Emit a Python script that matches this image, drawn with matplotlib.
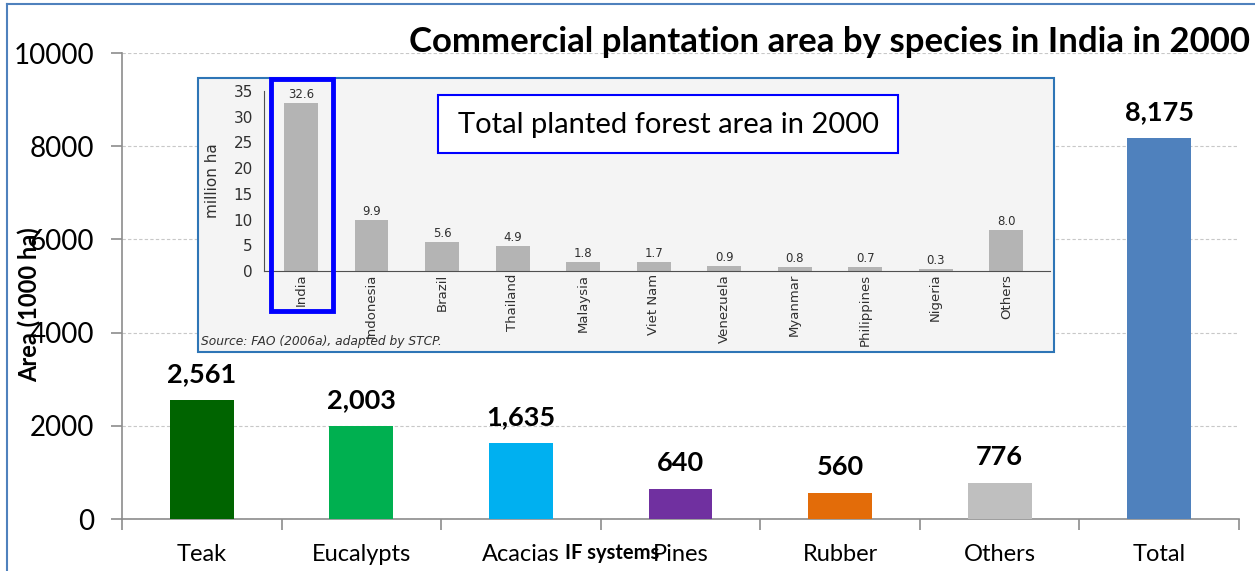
import matplotlib
matplotlib.use("Agg")
import matplotlib.pyplot as plt
from matplotlib.patches import Rectangle
from matplotlib.lines import Line2D

# ---- data ----
categories = ["Teak", "Eucalypts", "Acacias", "Pines", "Rubber", "Others", "Total"]
areas = [2561, 2003, 1635, 640, 560, 776, 8175]
area_labels = ["2,561", "2,003", "1,635", "640", "560", "776", "8,175"]
bar_colors = ["#006400", "#00b050", "#00b0f0", "#7030a0", "#e36c09", "#bfbfbf", "#4f81bd"]
y_ticks = [0, 2000, 4000, 6000, 8000, 10000]

inset_countries = ["India", "Indonesia", "Brazil", "Thailand", "Malaysia", "Viet Nam",
                   "Venezuela", "Myanmar", "Philippines", "Nigeria", "Others"]
inset_values = [32.6, 9.9, 5.6, 4.9, 1.8, 1.7, 0.9, 0.8, 0.7, 0.3, 8.0]
inset_yticks = [0, 5, 10, 15, 20, 25, 30, 35]

W, H = 1255, 571
fig = plt.figure(figsize=(W / 100, H / 100), dpi=100)
fig.patch.set_facecolor("white")

def fx(x):
    return x / W

def fy(y):
    return 1 - y / H

FONT = ["Lato", "DejaVu Sans"]

# figure frame lines
fig.add_artist(Line2D([fx(7), fx(7)], [fy(4), 0], color="#4f81bd", lw=1.5, transform=fig.transFigure))
fig.add_artist(Line2D([fx(7), 1], [fy(4), fy(4)], color="#4f81bd", lw=1.5, transform=fig.transFigure))

# ---- main axes ----
ax = fig.add_axes([fx(122), fy(519), fx(1239) - fx(122), fy(53) - fy(519)])
x = list(range(len(categories)))
ax.bar(x, areas, width=0.4, color=bar_colors, zorder=3)
ax.set_xlim(-0.5, len(categories) - 0.5)
ax.set_ylim(0, 10000)
ax.set_yticks(y_ticks)
ax.set_yticklabels([str(v) for v in y_ticks], fontsize=20, family=FONT)
ax.set_xticks(x)
ax.set_xticklabels(categories, fontsize=17, family=FONT)
ax.set_xticks([i - 0.5 for i in range(len(categories) + 1)], minor=True)
ax.tick_params(axis="x", which="major", length=0, pad=18)
ax.tick_params(axis="x", which="minor", length=8, color="#8c8c8c", width=1.2)
ax.tick_params(axis="y", length=8, color="#8c8c8c", width=1.2, pad=12)
ax.yaxis.grid(True, linestyle=(0, (3, 2)), color="#c8c8c8", lw=0.8, zorder=0)
for s in ["top", "right"]:
    ax.spines[s].set_visible(False)
for s in ["left", "bottom"]:
    ax.spines[s].set_color("#8c8c8c")
    ax.spines[s].set_linewidth(1.2)
ax.set_facecolor("none")

for xi, v, lab in zip(x, areas, area_labels):
    ax.annotate(lab, (xi, v), xytext=(0, 10), textcoords="offset points",
                ha="center", va="bottom", fontsize=19.5, fontweight="bold", family=FONT)

fig.text(fx(29), fy(305), "Area (1000 ha)", rotation=90, ha="center", va="center",
         fontsize=17, fontweight="bold", family=FONT)
fig.text(fx(1250), fy(42), "Commercial plantation area by species in India in 2000",
         ha="right", va="center", fontsize=25, fontweight="bold", family=FONT)
fig.text(fx(612), fy(553), "IF systems", ha="center", va="center",
         fontsize=14.5, fontweight="bold", family=FONT)

# ---- inset background ----
fig.add_artist(Rectangle((fx(198), fy(352)), fx(1054) - fx(198), fy(78) - fy(352),
                         transform=fig.transFigure, facecolor="#f4f4f4",
                         edgecolor="#2e75b6", lw=1.5, zorder=5))

iax = fig.add_axes([fx(264), fy(271), fx(1050) - fx(264), fy(91) - fy(271)], zorder=6)
iax.set_facecolor("none")
ix = list(range(len(inset_countries)))
iax.bar(ix, inset_values, width=0.48, color="#b4b4b4")
iax.set_xlim(-0.525, len(inset_countries) - 0.38)
iax.set_ylim(0, 35)
iax.set_yticks(inset_yticks)
iax.set_yticklabels([str(v) for v in inset_yticks], fontsize=11, color="#303030")
iax.set_xticks(ix)
iax.set_xticklabels(inset_countries, rotation=90, fontsize=9.5, color="#303030")
iax.tick_params(axis="x", length=0, pad=2)
iax.tick_params(axis="y", length=0, pad=8)
for s in ["top", "right"]:
    iax.spines[s].set_visible(False)
for s in ["left", "bottom"]:
    iax.spines[s].set_color("#505050")
    iax.spines[s].set_linewidth(0.8)
for xi, v in zip(ix, inset_values):
    iax.annotate(f"{v:.1f}", (xi, v), xytext=(0, 1.5), textcoords="offset points",
                 ha="center", va="bottom", fontsize=8.5, color="#303030")
iax.set_ylabel("million ha", fontsize=11, color="#303030", labelpad=10)

fig.text(fx(201), fy(341), "Source: FAO (2006a), adapted by STCP.", fontsize=8.8,
         style="italic", color="#303030", ha="left", va="center", zorder=7)

# highlight rectangle around India
fig.add_artist(Rectangle((fx(271), fy(311)), fx(333) - fx(271), fy(79) - fy(311),
                         transform=fig.transFigure, facecolor="none",
                         edgecolor="#0000ff", lw=3.5, zorder=8))
# text box
fig.add_artist(Rectangle((fx(438), fy(153)), fx(898) - fx(438), fy(95) - fy(153),
                         transform=fig.transFigure, facecolor="white",
                         edgecolor="#0000ff", lw=1.5, zorder=8))
fig.text(fx(668), fy(125), "Total planted forest area in 2000", ha="center", va="center",
         fontsize=21, family=FONT, zorder=9)

fig.savefig("out.png", dpi=100)
